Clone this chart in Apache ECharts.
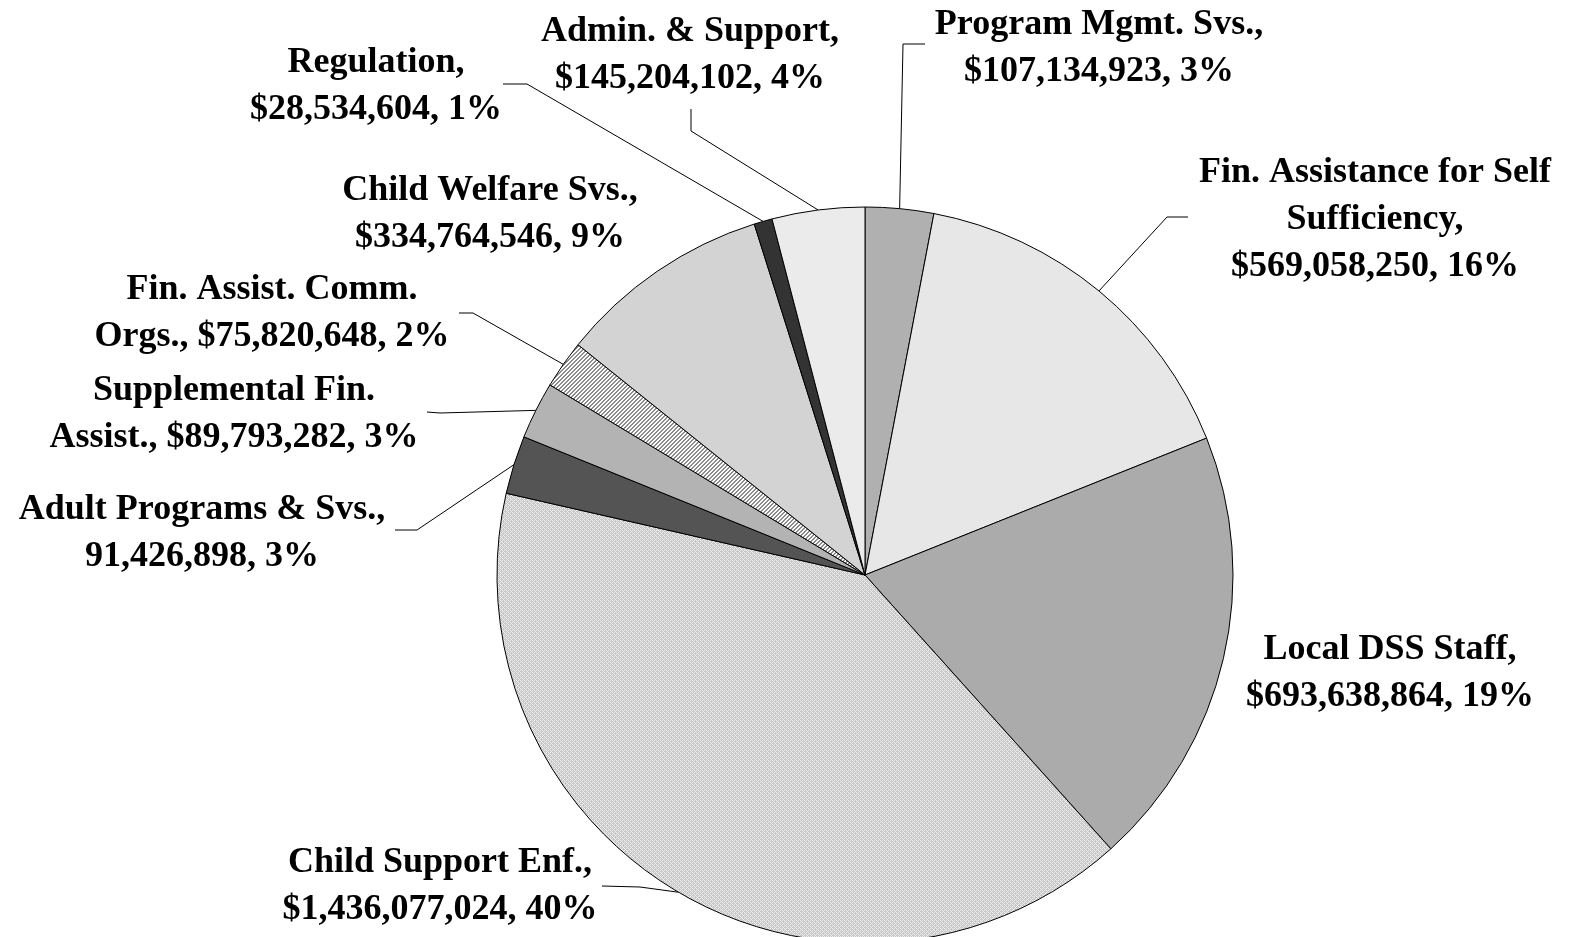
<!DOCTYPE html>
<html>
<head>
<meta charset="utf-8">
<script src="https://cdn.jsdelivr.net/npm/echarts@6/dist/echarts.min.js"></script>
<style>
  html, body { margin: 0; padding: 0; background: #fff; }
  #chart { width: 1572px; height: 937px; }
</style>
</head>
<body>
<div id="chart"></div>
<script>
// slice names, clockwise from 12 o'clock ("\n" = where the label wraps inside the name)
const names = [
  'Program Mgmt. Svs.',
  'Fin. Assistance for Self\nSufficiency',
  'Local DSS Staff',
  'Child Support Enf.',
  'Adult Programs & Svs.',
  'Supplemental Fin.\nAssist.',
  'Fin. Assist. Comm.\nOrgs.',
  'Child Welfare Svs.',
  'Regulation',
  'Admin. & Support'
]
const values = [
  107134923, 569058250, 693638864, 1436077024, 91426898,
  89793282, 75820648, 334764546, 28534604, 145204102
]
// text between name and amount, and currency sign, as printed in the source
const seps = ['\n', '\n', '\n', '\n', '\n', ' ', ' ', '\n', '\n', '\n']
const signs = ['$', '$', '$', '$', '', '$', '$', '$', '$', '$']

// label centres, leader line elbows/ends and fills (styling, not data)
const labelPos = [
  [1099, 48], [1375, 220], [1390, 673], [440, 886], [202, 533],
  [234, 414], [272, 313], [490, 214], [376, 86], [690, 55]
]
const leader = [
  [[903, 44], [925, 44]],
  [[1167, 217], [1188, 217]],
  null,
  [[640, 887], [602, 886]],
  [[417, 530], [395, 530]],
  [[440, 413], [427, 412]],
  [[473, 313], [459, 313]],
  null,
  [[527, 84], [503, 84]],
  [[691, 131], [691, 109]]
]

function makePattern(w, h, bg, fg, pts) {
  const c = document.createElement('canvas')
  c.width = w
  c.height = h
  const ctx = c.getContext('2d')
  ctx.fillStyle = bg
  ctx.fillRect(0, 0, w, h)
  ctx.fillStyle = fg
  pts.forEach(p => ctx.fillRect(p[0], p[1], 1, 1))
  return { image: c, repeat: 'repeat' }
}
// fine checker for the big slice
const checker = makePattern(4, 4, '#c6c6c6', '#eeeeee', [[0, 0], [2, 2], [1, 1], [3, 3], [2, 0], [0, 2]])
// diagonal stripes
const stripes = makePattern(4, 4, '#ffffff', '#8c8c8c', [[3, 0], [2, 1], [1, 2], [0, 3], [0, 0], [3, 1], [2, 2], [1, 3]])

const fills = [
  '#b0b0b0', '#e7e7e7', '#ababab', checker, '#545454',
  '#b3b3b3', stripes, '#d3d3d3', '#333333', '#ebebeb'
]

const total = values.reduce((a, b) => a + b, 0)
const fmt = v => String(v).replace(/\B(?=(\d{3})+(?!\d))/g, ',')

const seriesData = values.map((v, i) => ({
  name: names[i],
  value: v,
  itemStyle: { color: fills[i] },
  labelLine: { show: !!leader[i] }
}))

const chart = echarts.init(document.getElementById('chart'))
chart.setOption({
  backgroundColor: '#fff',
  animation: false,
  series: [{
    type: 'pie',
    center: [865, 575],
    radius: 368,
    startAngle: 90,
    clockwise: true,
    data: seriesData,
    itemStyle: { borderColor: '#000', borderWidth: 1 },
    label: {
      show: true,
      position: 'outside',
      color: '#000',
      fontFamily: 'Liberation Serif',
      fontWeight: 'bold',
      fontSize: 36,
      lineHeight: 47,
      align: 'center',
      formatter: p => {
        const i = p.dataIndex
        const pct = Math.round(values[i] / total * 100)
        return names[i] + ',' + seps[i] + signs[i] + fmt(values[i]) + ', ' + pct + '%'
      }
    },
    labelLine: {
      show: true,
      length: 20,
      length2: 20,
      lineStyle: { color: '#000', width: 1 }
    },
    labelLayout: params => {
      const i = params.dataIndex
      const p = labelPos[i]
      const out = { x: p[0], y: p[1], align: 'center', verticalAlign: 'middle' }
      if (leader[i] && params.labelLinePoints) {
        out.labelLinePoints = [params.labelLinePoints[0], leader[i][0], leader[i][1]]
      }
      return out
    }
  }]
})
</script>
</body>
</html>
